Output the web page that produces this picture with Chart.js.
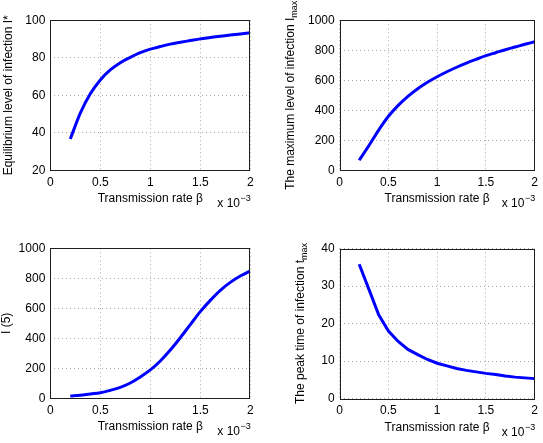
<!DOCTYPE html>
<html lang="en">
<head>
  <meta charset="UTF-8">
  <title>Transmission rate panels</title>
  <script src="https://cdn.jsdelivr.net/npm/chart.js"></script>
  <style>
    body {
      margin: 0;
      background: #fff;
    }
    .wrap {
      position: relative;
      width: 543px;
      height: 443px;
    }
    .wrap canvas {
      position: absolute;
      left: 0;
      top: 0;
    }
  </style>
</head>
<body>
  <div class="wrap">
    <canvas id="c1" width="543" height="443"></canvas>
    <canvas id="c2" width="543" height="443"></canvas>
    <canvas id="c3" width="543" height="443"></canvas>
    <canvas id="c4" width="543" height="443"></canvas>
  </div>

  <script>
    // transmission rate beta (x 10^-3)
    const beta = [0.2, 0.3, 0.4, 0.5, 0.6, 0.7, 0.8, 0.9, 1.0, 1.1, 1.2, 1.3, 1.4, 1.5, 1.6, 1.7, 1.8, 1.9, 2.0];

    // values
    const equilibrium = [36.7, 50.5, 60.8, 68.2, 73.5, 77.4, 80.2, 82.7, 84.6, 86.0, 87.3, 88.3, 89.2, 90.1, 90.8, 91.5, 92.1, 92.7, 93.3];
    const maxLevel = [67, 165, 268, 360, 433, 493, 544, 587, 624, 657, 687, 715, 740, 764, 784, 804, 822, 840, 857];
    const infAt5 = [15, 20, 29, 37, 53, 73, 102, 142, 189, 249, 322, 404, 491, 578, 653, 720, 773, 815, 849];
    const peakTime = [35.8, 29.1, 22.3, 18.0, 15.2, 13.1, 11.7, 10.4, 9.4, 8.7, 8.0, 7.5, 7.1, 6.7, 6.4, 6.0, 5.7, 5.5, 5.3];

    // tick labels
    const xTicks = [0, 0.5, 1, 1.5, 2];
    const yTicksEq = [20, 40, 60, 80, 100];
    const yTicksThousand = [0, 200, 400, 600, 800, 1000];
    const yTicksPeak = [0, 10, 20, 30, 40];

    const xTitle = 'Transmission rate \u03b2';
    const expMain = 'x 10';
    const expSup = '\u22123';

    const FONT = '"Liberation Sans", Arial, Helvetica, sans-serif';
    const W = 543, H = 443;
    const Y_AXIS_W = 40;
    const X_AXIS_H = 36;

    // draws the full box, the y title (with optional subscript) and the x10^-3 note
    const framePlugin = {
      id: 'frame',
      afterDraw(chart, args, opts) {
        const ctx = chart.ctx;
        const a = chart.chartArea;
        ctx.save();
        ctx.strokeStyle = '#1e1e1e';
        ctx.lineWidth = 1;
        ctx.strokeRect(Math.round(a.left) + 0.5, Math.round(a.top) + 0.5,
          Math.round(a.right) - Math.round(a.left) - 1, Math.round(a.bottom) - Math.round(a.top));

        ctx.fillStyle = '#000';
        ctx.textAlign = 'left';
        ctx.textBaseline = 'alphabetic';

        // y title, rotated
        const mainFont = '12px ' + FONT;
        const subFont = '9px ' + FONT;
        ctx.font = mainFont;
        const w1 = ctx.measureText(opts.title).width;
        ctx.font = subFont;
        const w2 = opts.sub ? ctx.measureText(opts.sub).width : 0;
        const total = w1 + w2;
        ctx.save();
        ctx.translate(opts.titleX, (a.top + a.bottom) / 2);
        ctx.rotate(-Math.PI / 2);
        ctx.font = mainFont;
        ctx.fillText(opts.title, -total / 2, 4);
        if (opts.sub) {
          ctx.font = subFont;
          ctx.fillText(opts.sub, -total / 2 + w1, 7);
        }
        ctx.restore();

        // exponent note under the x axis
        ctx.font = mainFont;
        const e1 = ctx.measureText(expMain).width;
        ctx.font = subFont;
        const e2 = ctx.measureText(expSup).width;
        const ex = a.right - e1 - e2;
        const ey = a.bottom + 37;
        ctx.font = mainFont;
        ctx.fillText(expMain, ex, ey);
        ctx.font = subFont;
        ctx.fillText(expSup, ex + e1 + 0.5, ey - 6);
        ctx.restore();
      }
    };

    function makePanel(id, area, values, yTicks, title, sub, titleX, smooth) {
      const ctx = document.getElementById(id).getContext('2d');
      return new Chart(ctx, {
        type: 'line',
        data: {
          datasets: [{
            data: beta.map((b, i) => ({ x: b, y: values[i] })),
            borderColor: '#0000ff',
            borderWidth: 3,
            pointRadius: 0,
            tension: 0,
            cubicInterpolationMode: smooth ? 'monotone' : 'default',
            fill: false
          }]
        },
        options: {
          responsive: false,
          animation: false,
          devicePixelRatio: 1,
          layout: {
            padding: {
              left: area.l - Y_AXIS_W,
              top: area.t,
              right: W - area.r,
              bottom: H - area.b - X_AXIS_H
            }
          },
          plugins: {
            legend: { display: false },
            tooltip: { enabled: false },
            frame: { title: title, sub: sub, titleX: titleX }
          },
          scales: {
            x: {
              type: 'linear',
              min: xTicks[0],
              max: xTicks[xTicks.length - 1],
              afterBuildTicks: s => { s.ticks = xTicks.map(v => ({ value: v })); },
              afterFit: s => { s.height = X_AXIS_H; },
              grid: { color: '#a8a8a8', lineWidth: 1, drawTicks: false },
              border: { display: false, dash: [1, 3] },
              ticks: {
                padding: 5,
                color: '#000',
                maxRotation: 0,
                autoSkip: false,
                font: { family: FONT, size: 12 },
                callback: v => String(v)
              },
              title: {
                display: true,
                text: xTitle,
                color: '#000',
                padding: { top: 0, bottom: 0 },
                font: { family: FONT, size: 12, lineHeight: 1.2 }
              }
            },
            y: {
              type: 'linear',
              min: yTicks[0],
              max: yTicks[yTicks.length - 1],
              afterBuildTicks: s => { s.ticks = yTicks.map(v => ({ value: v })); },
              afterFit: s => { s.width = Y_AXIS_W; },
              grid: { color: '#a8a8a8', lineWidth: 1, drawTicks: false },
              border: { display: false, dash: [1, 3] },
              ticks: {
                padding: 5,
                color: '#000',
                autoSkip: false,
                font: { family: FONT, size: 12 },
                callback: v => String(v)
              }
            }
          }
        },
        plugins: [framePlugin]
      });
    }

    makePanel('c1', { l: 50.3, t: 20.3, r: 250.3, b: 170.3 }, equilibrium, yTicksEq,
      'Equilibrium level of infection I*', '', 8, true);
    makePanel('c2', { l: 339.7, t: 20.3, r: 539.7, b: 170.3 }, maxLevel, yTicksThousand,
      'The maximum level of infection I', 'max', 289.7, true);
    makePanel('c3', { l: 50.3, t: 248.3, r: 250.3, b: 398.3 }, infAt5, yTicksThousand,
      'I (5)', '', 6, true);
    makePanel('c4', { l: 339.7, t: 248.5, r: 539.7, b: 398.5 }, peakTime, yTicksPeak,
      'The peak time of infection t', 'max', 300, false);
  </script>
</body>
</html>
